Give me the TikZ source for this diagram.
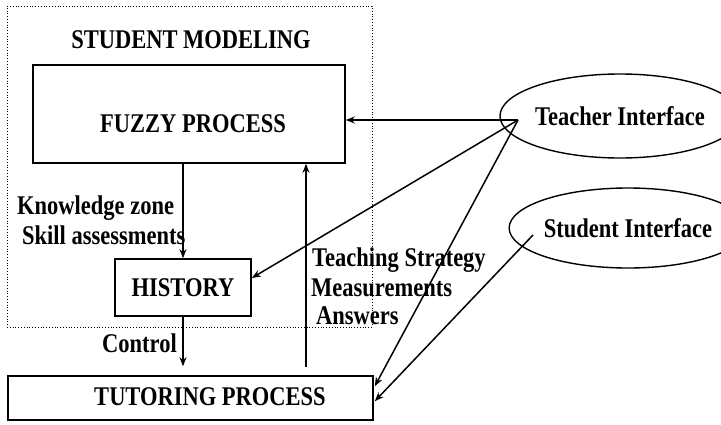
\documentclass[tikz,border=0pt]{standalone}
\usepackage{fontspec}
\setmainfont{Liberation Serif}
\usetikzlibrary{arrows.meta,shapes.geometric,calc}
% bold serif lettering, slightly tall
\newcommand{\tallbf}[1]{\scalebox{1}[1.2]{#1}}
\begin{document}
\begin{tikzpicture}[x=1pt,y=-1pt,
  every node/.style={font=\fontsize{22.5}{27}\selectfont\bfseries},
  box/.style={draw,line width=1.6pt,inner sep=0pt},
  iface/.style={draw,ellipse,line width=1.4pt,inner sep=0pt},
  txt/.style={inner sep=0pt},
  link/.style={line width=1.5pt,-{Stealth[length=9pt,width=7pt]}},
]
\useasboundingbox (0,0) rectangle (721,424);

% student modeling frame
\node[draw,dotted,line width=0.8pt,minimum width=365pt,minimum height=321pt,inner sep=0pt] (modeling) at (189.5,166.5) {};
\node[txt] (modtitle) at (191,40) {\tallbf{STUDENT MODELING}};

% boxes
\node[box,minimum width=312pt,minimum height=98pt] (fuzzy) at (189,114) {};
\node[txt] (fuzzytxt) at (193,124) {\tallbf{FUZZY PROCESS}};
\node[box,minimum width=136pt,minimum height=57pt] (history) at (183,287.5) {\tallbf{HISTORY}};
\node[box,minimum width=365pt,minimum height=44pt] (tutor) at (190.5,398) {};
\node[txt] (tutortxt) at (210,397) {\tallbf{TUTORING PROCESS}};

% interfaces
\node[iface,minimum width=204pt,minimum height=84pt] (teacher) at (620,116) {\tallbf{Teacher Interface}};
\node[iface,minimum width=192pt,minimum height=80pt] (student) at (628,228) {\tallbf{Student Interface}};

% labels
\node[txt,anchor=west] (kz) at (17,208) {\tallbf{Knowledge zone}};
\node[txt,anchor=west] (sa) at (22,235) {\tallbf{Skill assessments}};
\node[txt,anchor=west] (ctl) at (102,343) {\tallbf{Control}};
\node[txt,anchor=west] (ts) at (312,260) {\tallbf{Teaching Strategy}};
\node[txt,anchor=west] (ms) at (311,288) {\tallbf{Measurements}};
\node[txt,anchor=west] (ans) at (316,316) {\tallbf{Answers}};

% connectors
\coordinate (tw) at (518,120);
\coordinate (sw) at (533,235);
\coordinate (up0) at (306,367);
\draw[link] (tw) -- (fuzzy.east |- tw);
\draw[link] (tw) -- ($(history.east)+(0,-9.5)$);
\draw[link] (tw) -- ($(tutor.north east)+(1,11)$);
\draw[link] (sw) -- ($(tutor.north east)+(1,26)$);
\draw[link] (fuzzy.south -| history.north) -- (history.north);
\draw[link,shorten >=9pt] (history.south) -- (history.south |- tutor.north);
\draw[link] (up0) -- (up0 |- fuzzy.south);
\end{tikzpicture}
\end{document}
